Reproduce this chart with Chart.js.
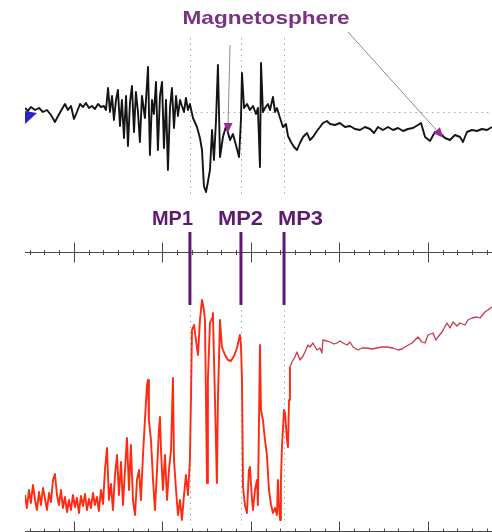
<!DOCTYPE html>
<html>
<head>
<meta charset="utf-8">
<script src="https://cdn.jsdelivr.net/npm/chart.js@4.4.0/dist/chart.umd.min.js"></script>
<style>
html, body { margin: 0; padding: 0; background: #fff; }
canvas { display: block; }
</style>
</head>
<body>
<canvas id="chart" width="492" height="532"></canvas>
<script>
// time in minutes, field in nT (top panel), density in cm^-3 (bottom panel)
const fieldTimes = [
    2.68, 2.88, 3.08, 3.36, 3.63, 3.90, 4.17, 4.44, 4.71, 4.92,
    5.19, 5.39, 5.59, 5.80, 6.00, 6.20, 6.41, 6.61, 6.81, 7.02,
    7.22, 7.42, 7.63, 7.83, 8.03, 8.17, 8.31, 8.44, 8.58, 8.71,
    8.85, 8.98, 9.12, 9.25, 9.39, 9.53, 9.66, 9.80, 9.93, 10.07,
    10.20, 10.34, 10.47, 10.61, 10.81, 11.02, 11.15, 11.29, 11.42, 11.56,
    11.69, 11.83, 11.97, 12.10, 12.24, 12.37, 12.51, 12.64, 12.78, 12.92,
    13.05, 13.19, 13.32, 13.46, 13.59, 13.73, 13.86, 14.07, 14.34, 14.54,
    14.68, 14.81, 14.95, 15.08, 15.22, 15.36, 15.49, 15.63, 15.76, 15.90,
    16.10, 16.31, 16.58, 16.78, 16.98, 17.19, 17.32, 17.39, 17.53, 17.73,
    17.93, 18.14, 18.34, 18.47, 18.61, 18.68, 18.81, 18.95, 19.15, 19.29,
    19.49, 19.63, 19.76, 19.97, 20.17, 20.37, 20.51, 20.71, 20.92, 21.12,
    21.32, 21.53, 21.80, 22.00, 22.20, 22.47, 22.68, 22.88, 23.15, 23.36,
    23.69, 24.03, 24.37, 24.71, 25.05, 25.39, 25.73, 26.07, 26.34, 26.61,
    26.95, 27.29, 27.63, 27.97, 28.31, 28.64, 28.98, 29.32, 29.53, 29.80,
    30.14, 30.47, 30.81, 31.15, 31.49, 31.83, 32.17, 32.37, 32.64, 32.98,
    33.32, 33.66, 34.00, 34.34
];
const fieldValues = [
    1.6, 0.4, 2.0, 0.8, 1.6, 0, 0.8, -1.2, -4.0, -1.6,
    1.2, 3.2, 0.8, 2.4, -2.8, 0, 3.2, 2.0, 3.6, 1.6,
    2.4, 1.2, 3.2, 2.0, 2.4, 0.8, 9.6, 0, 6.4, -3.2,
    4.8, 8.8, -5.6, 4.8, -10.4, 6.4, -13.6, 4.0, 10.4, -8.0,
    8.0, 0, -12.0, 6.4, -2.4, 18.0, -17.2, 4.8, -0.8, 12.0,
    -15.2, 6.4, 12.0, -14.4, 4.8, -23.2, 1.6, 9.6, -6.4, 6.4,
    -1.6, 4.8, 2.4, 0, 5.6, 0.8, 3.2, -2.4, -6.0, -10.4,
    -15.2, -29.6, -32.0, -28.0, -23.2, -7.2, -19.2, -3.2, 18.8, -18.0,
    -10.0, -5.6, -11.2, -8.8, -13.2, -18.0, -3.2, 15.6, 1.6, 3.2,
    0.8, 2.4, -0.8, 1.6, -22.0, 19.6, 0, 1.6, 3.2, 0.8,
    6.0, 0, 1.6, -2.4, -6.0, -4.8, -9.6, -12.0, -14.0, -15.2,
    -12.4, -10.0, -8.4, -11.2, -10.0, -7.6, -6.0, -4.4, -3.6, -4.8,
    -5.2, -4.4, -6.0, -5.6, -6.8, -7.2, -6.0, -6.8, -8.4, -6.0,
    -7.2, -6.0, -7.2, -6.4, -7.6, -6.8, -6.4, -5.2, -4.4, -10.0,
    -11.6, -8.0, -8.4, -10.4, -11.2, -9.2, -10.0, -12.0, -8.0, -7.2,
    -7.6, -6.8, -7.2, -6.0
];

const densityTimes = [
    2.68, 2.81, 2.95, 3.08, 3.22, 3.36, 3.49, 3.63, 3.76, 3.90,
    4.03, 4.17, 4.31, 4.44, 4.58, 4.71, 4.85, 4.98, 5.12, 5.25,
    5.39, 5.53, 5.66, 5.80, 5.93, 6.07, 6.20, 6.34, 6.47, 6.61,
    6.75, 6.88, 7.02, 7.15, 7.29, 7.42, 7.56, 7.69, 7.83, 7.97,
    8.10, 8.24, 8.37, 8.51, 8.64, 8.78, 8.92, 9.05, 9.19, 9.32,
    9.46, 9.59, 9.73, 9.86, 10.00, 10.14, 10.27, 10.41, 10.54, 10.68,
    10.81, 10.95, 11.02, 11.08, 11.22, 11.36, 11.49, 11.63, 11.76, 11.83,
    11.90, 12.03, 12.17, 12.31, 12.44, 12.58, 12.71, 12.78, 12.92, 13.05,
    13.19, 13.32, 13.46, 13.59, 13.73, 13.86, 13.93, 14.00, 14.14, 14.27,
    14.41, 14.54, 14.68, 14.81, 14.88, 14.95, 15.02, 15.08, 15.22, 15.36,
    15.42, 15.56, 15.69, 15.76, 15.90, 16.03, 16.24, 16.44, 16.64, 16.85,
    17.05, 17.25, 17.32, 17.39, 17.46, 17.59, 17.73, 17.86, 17.93, 18.07,
    18.14, 18.27, 18.41, 18.47, 18.61, 18.68, 18.81, 18.95, 19.08, 19.22,
    19.36, 19.49, 19.63, 19.76, 19.83, 19.90, 19.97, 20.03, 20.10, 20.24,
    20.31, 20.44, 20.51, 20.58, 20.64, 20.78, 20.98, 21.12, 21.32, 21.53,
    21.66, 21.86, 22.00, 22.20, 22.47, 22.68, 22.81, 22.88, 23.15, 23.36,
    23.63, 23.83, 24.03, 24.24, 24.51, 24.71, 24.92, 25.25, 25.53, 25.86,
    26.20, 26.54, 26.88, 27.22, 27.63, 27.97, 28.24, 28.44, 28.92, 29.32,
    29.59, 29.80, 30.00, 30.34, 30.54, 30.68, 30.95, 31.29, 31.49, 31.69,
    31.97, 32.17, 32.51, 32.71, 32.98, 33.32, 33.53, 33.86, 34.07, 34.34
];
const densityValues = [
    3.5, 2.2, 4.0, 2.7, 4.5, 3.0, 2.0, 3.8, 2.5, 4.2,
    3.2, 2.0, 3.7, 2.8, 5.0, 5.6, 3.5, 2.5, 4.0, 2.2,
    3.3, 1.8, 3.0, 2.0, 3.5, 2.3, 3.2, 1.7, 3.4, 2.4,
    3.6, 2.0, 3.1, 2.2, 3.7, 2.5, 3.3, 1.9, 4.0, 2.6,
    6.0, 8.2, 3.0, 4.6, 2.0, 5.5, 7.5, 3.5, 6.8, 2.5,
    6.0, 9.2, 4.0, 8.5, 3.0, 1.5, 5.0, 6.0, 3.0, 7.5,
    11.0, 14.5, 15.0, 11.0, 9.0, 5.0, 2.0, 6.0, 10.0, 11.3,
    8.0, 4.0, 7.5, 3.0, 6.0, 8.0, 15.2, 7.0, 4.0, 1.5,
    3.0, 1.0, 3.5, 5.5, 3.5, 7.0, 13.0, 20.0, 20.5, 19.0,
    17.5, 21.0, 23.0, 22.0, 21.0, 13.0, 4.7, 15.0, 20.7, 21.2,
    21.7, 13.0, 4.7, 13.0, 21.0, 18.3, 17.5, 17.0, 16.9, 17.4,
    18.2, 19.5, 18.5, 15.0, 4.3, 2.5, 1.7, 6.0, 6.3, 3.0,
    2.0, 4.0, 5.0, 2.5, 18.5, 12.0, 11.0, 9.0, 7.5, 4.0,
    2.5, 1.7, 2.2, 1.5, 5.0, 2.5, 1.0, 5.0, 8.3, 12.0,
    11.7, 9.0, 8.3, 13.0, 16.3, 16.8, 17.3, 17.8, 17.0, 17.4,
    17.8, 18.5, 18.3, 18.7, 18.0, 18.2, 17.7, 19.0, 18.9, 18.8,
    18.6, 18.7, 18.9, 18.7, 18.5, 18.8, 18.3, 18.0, 18.2, 18.2,
    18.1, 18.2, 18.3, 18.3, 18.2, 18.0, 18.1, 18.3, 18.7, 19.3,
    18.8, 18.7, 19.5, 19.7, 19.0, 19.3, 19.8, 20.7, 20.2, 20.8,
    20.4, 20.7, 20.5, 21.0, 21.2, 21.3, 21.2, 21.8, 22.0, 22.3
];

const crossingNames = ["MP1", "MP2", "MP3"];
const crossingTimes = [13.86, 17.32, 20.24];
const labelTimes = [12.68, 17.29, 21.36];
const majorTicks = [6, 12, 18, 24, 30];
const minorTicks = [3, 4, 5, 7, 8, 9, 10, 11, 13, 14, 15, 16, 17, 19, 20, 21, 22, 23,
                    25, 26, 27, 28, 29, 31, 32, 33, 34];
const sheathEnd = 20.64;   // after this the density trace is the magnetosphere one

function toPoints(times, values)
{
    return times.map((t, i) => ({ x: t, y: values[i] }));
}

function segment(ctx, x1, y1, x2, y2)
{
    ctx.beginPath();
    ctx.moveTo(x1, y1);
    ctx.lineTo(x2, y2);
    ctx.stroke();
}

function arrow(ctx, x1, y1, x2, y2, color)
{
    ctx.strokeStyle = "#8c8c8c";
    ctx.lineWidth = 1;
    segment(ctx, x1, y1, x2, y2);
    let a = Math.atan2(y2 - y1, x2 - x1);
    ctx.save();
    ctx.translate(x2, y2);
    ctx.rotate(a);
    ctx.fillStyle = color;
    ctx.beginPath();
    ctx.moveTo(5, 0);
    ctx.lineTo(-5, -4.5);
    ctx.lineTo(-5, 4.5);
    ctx.closePath();
    ctx.fill();
    ctx.restore();
}

function fitText(ctx, text, cx, baseline, font, width)
{
    ctx.font = font;
    let w = ctx.measureText(text).width;
    ctx.save();
    ctx.translate(cx, baseline);
    ctx.scale(width / w, 1);
    ctx.textAlign = "center";
    ctx.textBaseline = "alphabetic";
    ctx.fillText(text, 0, 0);
    ctx.restore();
}

function tickAxis(ctx, x, y, left, right, up, down, minorLen)
{
    ctx.strokeStyle = "#4a4a4a";
    ctx.lineWidth = 1;
    segment(ctx, left, y, right, y);
    majorTicks.forEach(t => {
        let px = Math.round(x.getPixelForValue(t)) + 0.5;
        segment(ctx, px, y - up, px, y + down);
    });
    minorTicks.forEach(t => {
        let px = Math.round(x.getPixelForValue(t)) + 0.5;
        segment(ctx, px, y - minorLen, px, y + (down ? minorLen : 0));
    });
}

const overlay = {
    id: "overlay",
    beforeDatasetsDraw(chart) {
        const ctx = chart.ctx;
        const area = chart.chartArea;
        const x = chart.scales.x, yTop = chart.scales.yTop, yBot = chart.scales.yBot;
        ctx.save();
        ctx.strokeStyle = "#a8a8a8";
        ctx.lineWidth = 1;
        ctx.setLineDash([1.5, 4]);
        let zero = Math.round(yTop.getPixelForValue(0)) + 0.5;
        segment(ctx, x.getPixelForValue(crossingTimes[0]), zero, area.right, zero);
        crossingTimes.forEach(t => {
            let px = Math.round(x.getPixelForValue(t)) + 0.5;
            segment(ctx, px, yTop.getPixelForValue(29.6), px, yTop.getPixelForValue(-33.2));
            segment(ctx, px, yBot.getPixelForValue(22.0), px, yBot.getPixelForValue(0.5));
        });
        ctx.restore();
    },
    afterDatasetsDraw(chart) {
        const ctx = chart.ctx;
        const area = chart.chartArea;
        const x = chart.scales.x, yTop = chart.scales.yTop, yBot = chart.scales.yBot;
        ctx.save();

        // solar wind side marker
        ctx.fillStyle = "#2b22c8";
        ctx.beginPath();
        ctx.moveTo(x.getPixelForValue(2.68), yTop.getPixelForValue(0.4));
        ctx.lineTo(x.getPixelForValue(3.49), yTop.getPixelForValue(-0.4));
        ctx.lineTo(x.getPixelForValue(2.68), yTop.getPixelForValue(-4.8));
        ctx.closePath();
        ctx.fill();

        // annotation
        ctx.fillStyle = "#7a3384";
        fitText(ctx, "Magnetosphere", x.getPixelForValue(19.02), yTop.getPixelForValue(35.2),
                "bold 19px 'Liberation Sans', Arial, sans-serif", 167);
        arrow(ctx, x.getPixelForValue(16.58), yTop.getPixelForValue(26.8),
              x.getPixelForValue(16.44), yTop.getPixelForValue(-6.4), "#9a2c8c");
        arrow(ctx, x.getPixelForValue(24.58), yTop.getPixelForValue(32.0),
              x.getPixelForValue(30.81), yTop.getPixelForValue(-8.8), "#9a2c8c");

        // middle and bottom time axes
        tickAxis(ctx, x, Math.round(yBot.getPixelForValue(27.8)) + 0.5, area.left, area.right, 10, 10, 2.5);
        tickAxis(ctx, x, Math.round(yBot.getPixelForValue(-0.1)) + 0.5, area.left, area.right, 10, 0, 3);

        // magnetopause crossings
        ctx.strokeStyle = "#5e1a70";
        ctx.lineWidth = 3;
        crossingTimes.forEach(t => {
            let px = x.getPixelForValue(t);
            segment(ctx, px, yBot.getPixelForValue(29.8), px, yBot.getPixelForValue(22.5));
        });
        ctx.fillStyle = "#5e1a70";
        crossingNames.forEach((name, i) => {
            fitText(ctx, name, x.getPixelForValue(labelTimes[i]), yBot.getPixelForValue(30.5),
                    "bold 21px 'Liberation Sans', Arial, sans-serif", i === 0 ? 41 : 45);
        });
        ctx.restore();
    }
};

new Chart(document.getElementById("chart"), {
    type: "line",
    data: {
        datasets: [{
            data: toPoints(fieldTimes, fieldValues),
            yAxisID: "yTop",
            borderColor: "#141414",
            borderWidth: 1.9
        }, {
            data: toPoints(densityTimes, densityValues),
            yAxisID: "yBot",
            borderColor: "#ff2a12",
            borderWidth: 1.9,
            segment: {
                borderColor: ctx => ctx.p0.parsed.x >= sheathEnd ? "#cc3650" : "#ff2a12",
                borderWidth: ctx => ctx.p0.parsed.x >= sheathEnd ? 1.3 : 1.9
            }
        }]
    },
    options: {
        responsive: false,
        animation: false,
        events: [],
        layout: { padding: { left: 25, right: 0, top: 0, bottom: 0 } },
        elements: {
            point: { radius: 0 },
            line: { tension: 0, borderJoinStyle: "round" }
        },
        plugins: {
            legend: { display: false },
            tooltip: { enabled: false }
        },
        scales: {
            x: { type: "linear", min: 2.68, max: 34.34, display: false },
            yTop: { type: "linear", min: -168, max: 44.8, display: false },
            yBot: { type: "linear", min: -0.2, max: 53, display: false }
        }
    },
    plugins: [overlay]
});
</script>
</body>
</html>
